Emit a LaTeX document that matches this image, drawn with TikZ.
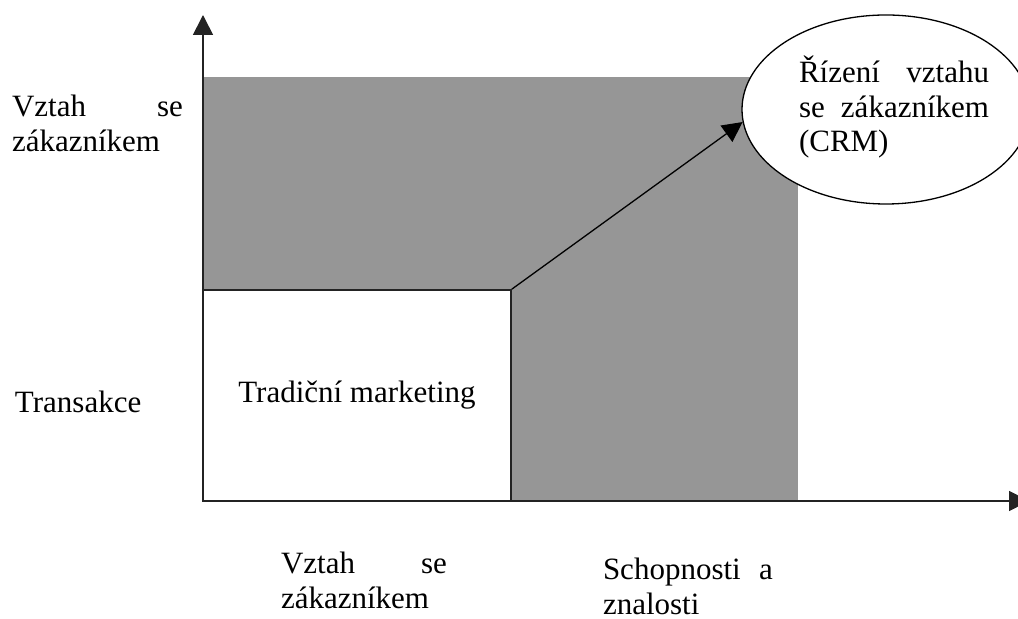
\documentclass[tikz,border=0pt]{standalone}
\usepackage{fontspec}
\setmainfont{Liberation Serif}
\usetikzlibrary{shapes.geometric,arrows.meta}
\definecolor{areagray}{RGB}{150,150,150}
\definecolor{edgegray}{RGB}{35,35,35}
\begin{document}
\begin{tikzpicture}[x=0.5pt,y=-0.5pt,
  axis/.style={line width=0.85pt, draw=edgegray, -{Triangle[length=10pt,width=10pt]}},
  link/.style={line width=0.65pt, draw=black, -{Triangle[length=10pt,width=10pt]}},
  lbl/.style={inner sep=0pt, outer sep=0pt, anchor=base west, align=left,
    font=\fontsize{15.5}{17.25}\selectfont},
  whitebox/.style={draw=edgegray, line width=0.85pt, fill=white, minimum width=154pt,
    minimum height=105.5pt, inner sep=0pt, font=\fontsize{15.5}{17.25}\selectfont},
  bubble/.style={ellipse, draw=black, line width=0.65pt, fill=white,
    minimum width=144pt, minimum height=94.5pt, inner sep=0pt}]
\useasboundingbox (0,0) rectangle (1018,619);
\clip (0,0) rectangle (1018,619);
% shaded region
\fill[areagray] (203,77) rectangle (798,501);
% white box
\node[whitebox] (wb) at (357,395.5) {Tradiční marketing};
% axes
\coordinate (O) at (203,501);
\coordinate (ytop) at (203,15);
\coordinate (xend) at (1029,501);
\draw[axis] (O) -- (ytop);
\draw[axis] (O) -- (xend);
% ellipse
\node[bubble] (crm) at (886,109.5) {};
\draw[link] (wb.north east) -- (crm.185);
\node[lbl, text width=95pt] (crmtext) at (799,83) {Řízení\hfill vztahu\\se\hfill zákazníkem\\(CRM)};
% labels
\node[lbl, text width=85.5pt] (ylabhi) at (12,117) {Vztah\hfill se\\zákazníkem};
\node[lbl] (ylablo) at (15,413) {Transakce};
\node[lbl, text width=83pt] (xlabl) at (281,574) {Vztah\hfill se\\zákazníkem};
\node[lbl, text width=85pt] (xlabr) at (603,580) {Schopnosti\hfill a\\znalosti};
\end{tikzpicture}
\end{document}
